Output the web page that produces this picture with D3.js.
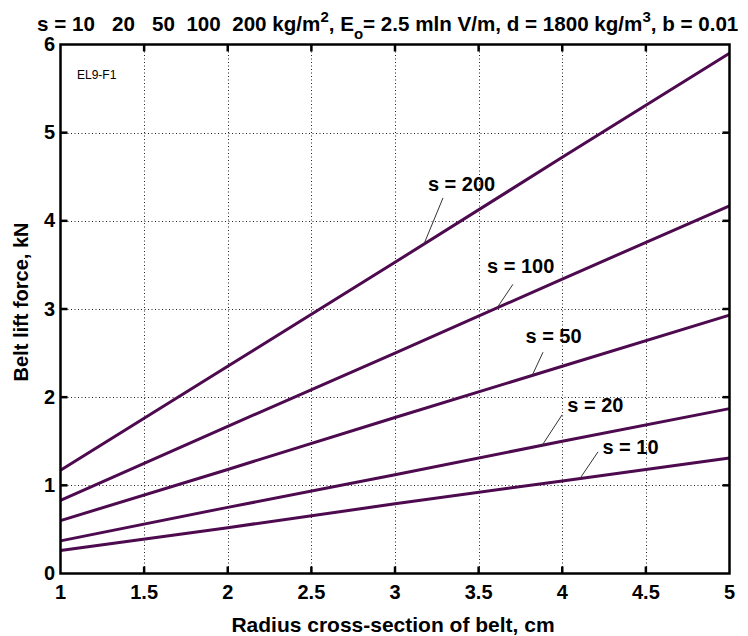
<!DOCTYPE html>
<html>
<head>
<meta charset="utf-8">
<script src="https://cdn.jsdelivr.net/npm/d3@7"></script>
<style>
body { margin:0; background:#fff; }
text { font-family: Arial, "Liberation Sans", sans-serif; }
</style>
</head>
<body>
<script>
// Data
var radius = [1, 2, 3, 4, 5];
var sValues = [10, 20, 50, 100, 200];
var force10  = [0.26, 0.52, 0.79, 1.05, 1.31];
var force20  = [0.37, 0.75, 1.12, 1.50, 1.87];
var force50  = [0.60, 1.18, 1.77, 2.35, 2.93];
var force100 = [0.83, 1.67, 2.50, 3.34, 4.17];
var force200 = [1.17, 2.35, 3.53, 4.72, 5.90];
var xTicks = [1, 1.5, 2, 2.5, 3, 3.5, 4, 4.5, 5];
var yTicks = [0, 1, 2, 3, 4, 5, 6];
// label anchor (data units) and where the leader meets the curve
var labelX   = [4.24, 4.03, 3.78, 3.55, 3.197];
var labelY   = [1.355, 1.83, 2.61, 3.41, 4.34];
var leaderX0 = [4.214, 3.999, 3.885, 3.705, 3.287];
var leaderY0 = [1.38, 1.80, 2.51, 3.28, 4.26];
var leaderX1 = [4.106, 3.88, 3.82, 3.61, 3.173];

var series = [force10, force20, force50, force100, force200];

var W = 748, H = 636;
var x = d3.scaleLinear().domain([1, 5]).range([60.5, 729.5]);
var y = d3.scaleLinear().domain([0, 6]).range([573.5, 44.5]);

var svg = d3.select("body").append("svg")
  .attr("width", W)
  .attr("height", H);

// grid
var grid = svg.append("g").attr("class", "grid")
  .attr("stroke", "#222")
  .attr("stroke-width", 1)
  .attr("stroke-dasharray", "1,2.5");
grid.selectAll(".gx").data(xTicks.slice(1, -1)).enter().append("line")
  .attr("x1", d => Math.round(x(d)) + 0.5).attr("x2", d => Math.round(x(d)) + 0.5)
  .attr("y1", y(6)).attr("y2", y(0));
grid.selectAll(".gy").data(yTicks.slice(1, -1)).enter().append("line")
  .attr("y1", d => Math.round(y(d)) + 0.5).attr("y2", d => Math.round(y(d)) + 0.5)
  .attr("x1", x(1)).attr("x2", x(5));

// curves
var line = d3.line()
  .x(function(d, i) { return x(radius[i]); })
  .y(function(d) { return y(d); });

svg.append("g").selectAll("path")
  .data(series).enter().append("path")
  .attr("d", line)
  .attr("fill", "none")
  .attr("stroke", "#4d0a4f")
  .attr("stroke-width", 3);

// interpolation helper to put leader ends on the drawn line
function valueAt(arr, r) {
  var i = Math.min(radius.length - 2, Math.max(0, Math.floor(r - 1)));
  var t = (r - radius[i]) / (radius[i + 1] - radius[i]);
  return arr[i] + t * (arr[i + 1] - arr[i]);
}

// labels
var lab = svg.append("g");
sValues.forEach(function(s, i) {
  lab.append("line")
    .attr("x1", x(leaderX0[i])).attr("y1", y(leaderY0[i]))
    .attr("x2", x(leaderX1[i])).attr("y2", y(valueAt(series[i], leaderX1[i])))
    .attr("stroke", "#333").attr("stroke-width", 1);
  lab.append("text")
    .attr("x", x(labelX[i])).attr("y", y(labelY[i]))
    .attr("font-size", 20).attr("font-weight", "bold")
    .text("s = " + s);
});

// axes box with inward ticks
var axes = svg.append("g").attr("stroke", "#000").attr("stroke-width", 2.5);
var tl = 7;
xTicks.slice(1, -1).forEach(function(t) {
  axes.append("line").attr("x1", x(t)).attr("x2", x(t)).attr("y1", y(0)).attr("y2", y(0) - tl);
  axes.append("line").attr("x1", x(t)).attr("x2", x(t)).attr("y1", y(6)).attr("y2", y(6) + tl);
});
yTicks.slice(1, -1).forEach(function(t) {
  axes.append("line").attr("y1", y(t)).attr("y2", y(t)).attr("x1", x(1)).attr("x2", x(1) + tl);
  axes.append("line").attr("y1", y(t)).attr("y2", y(t)).attr("x1", x(5)).attr("x2", x(5) - tl);
});
axes.append("rect")
  .attr("x", x(1)).attr("y", y(6))
  .attr("width", x(5) - x(1)).attr("height", y(0) - y(6))
  .attr("fill", "none");

// tick labels
svg.append("g").selectAll("text").data(xTicks).enter().append("text")
  .attr("x", d => x(d)).attr("y", 599)
  .attr("text-anchor", "middle")
  .attr("font-size", 20).attr("font-weight", "bold")
  .text(d => d);
svg.append("g").selectAll("text").data(yTicks).enter().append("text")
  .attr("x", 55).attr("y", d => y(d) + 6.5)
  .attr("text-anchor", "end")
  .attr("font-size", 20).attr("font-weight", "bold")
  .text(d => d);

// axis titles
svg.append("text")
  .attr("x", 393).attr("y", 632)
  .attr("text-anchor", "middle")
  .attr("font-size", 21).attr("font-weight", "bold")
  .text("Radius cross-section of belt, cm");
svg.append("text")
  .attr("transform", "translate(28,302) rotate(-90)")
  .attr("text-anchor", "middle")
  .attr("font-size", 20).attr("font-weight", "bold")
  .text("Belt lift force, kN");

svg.append("text")
  .attr("x", 77).attr("y", 79)
  .attr("font-size", 12)
  .text("EL9-F1");

// title
var title = svg.append("text")
  .attr("x", 37).attr("y", 31)
  .attr("font-size", 20.6).attr("font-weight", "bold")
  .style("white-space", "pre");
title.append("tspan").text("s = " + sValues.join("   ").replace("50   100", "50  100").replace("100   200", "100  200") + " kg/m");
title.append("tspan").attr("dy", -9).attr("font-size", 15).text("2");
title.append("tspan").attr("dy", 9).text(", E");
title.append("tspan").attr("dy", 8).attr("font-size", 15).text("o");
title.append("tspan").attr("dy", -8).text("= 2.5 mln V/m, d = 1800 kg/m");
title.append("tspan").attr("dy", -9).attr("font-size", 15).text("3");
title.append("tspan").attr("dy", 9).text(", b = 0.01");
</script>
</body>
</html>
